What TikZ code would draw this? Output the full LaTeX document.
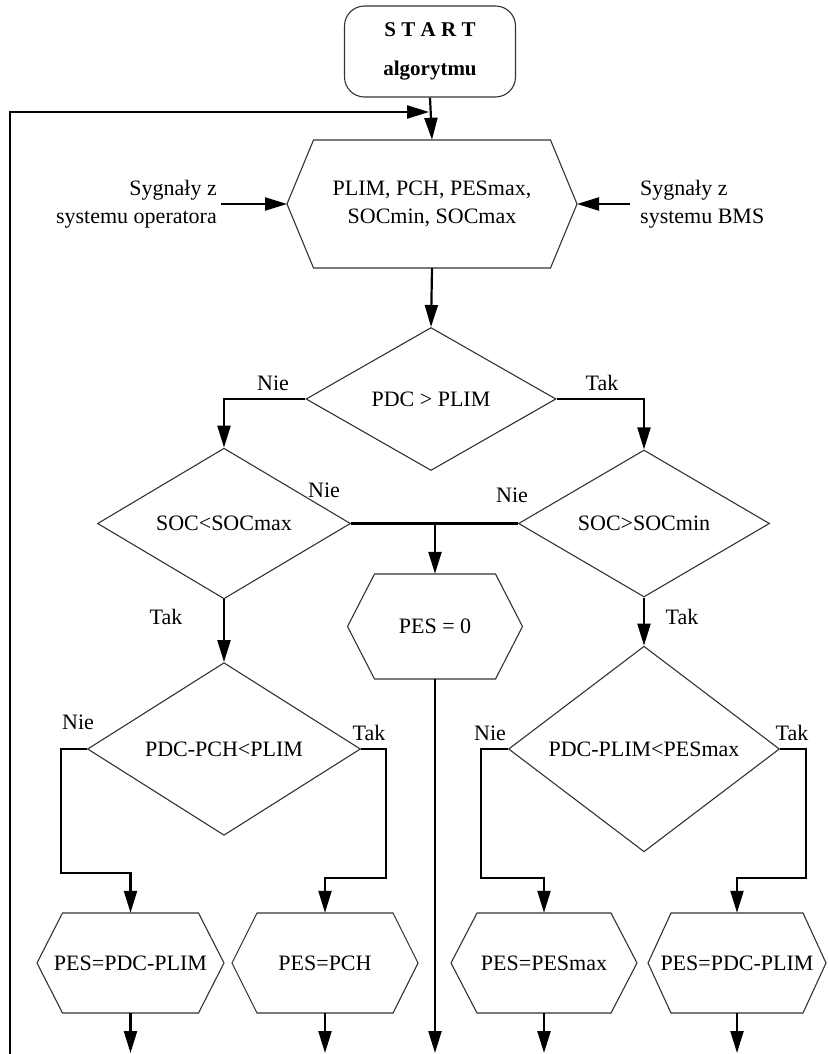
\documentclass[tikz,border=0pt]{standalone}
\usepackage{fontspec}
\setmainfont{Liberation Serif}
\usetikzlibrary{shapes.geometric,arrows.meta,calc}
% name, cx, cy, half top width, half middle width, half height, text
\newcommand\hexn[7]{%
  \node[txt,minimum width={2*#4},minimum height={2*#6}] (#1) at (#2,#3) {#7};
  \coordinate (#1-w) at ({#2-#5},#3);
  \coordinate (#1-e) at ({#2+#5},#3);
  \draw[outl] ({#2-#4},{#3-#6}) -- ({#2+#4},{#3-#6}) -- (#1-e) -- ({#2+#4},{#3+#6}) -- ({#2-#4},{#3+#6}) -- (#1-w) -- cycle;
}
\begin{document}
\begin{tikzpicture}[x=1pt,y=-1pt,
  font=\fontsize{22}{28}\selectfont,
  outl/.style={draw=black!80,line width=1.1pt},
  conn/.style={draw=black,line width=2.2pt},
  arr/.style={conn,-{Triangle[length=22pt,width=13pt]}},
  txt/.style={inner sep=0pt,align=center},
  dia/.style={diamond,outl,inner sep=0pt,align=center},
  lbl/.style={inner sep=0pt}]
\useasboundingbox (0,0) rectangle (827,1054);

% start
\node[outl,rounded corners=20pt,minimum width=171pt,minimum height=91pt,align=center,
  font=\bfseries\fontsize{21}{39}\selectfont] (start) at (430,51.5) {S T A R T\\algorytmu};

% input hexagon
\hexn{in}{432}{204}{118.5}{145}{64}{PLIM, PCH, PESmax,\\SOCmin, SOCmax}
\node[txt,anchor=east,align=right] (op) at (217,204) {Sygnały z\\systemu operatora};
\node[txt,anchor=west,align=left] (bms) at (640,204) {Sygnały z\\systemu BMS};

% decisions
\node[dia,minimum width=250pt,minimum height=143pt] (d1) at (431,399) {PDC > PLIM};
\node[dia,minimum width=253pt,minimum height=141pt] (d2l) at (224,523.5) {SOC<SOCmax};
\node[dia,minimum width=251pt,minimum height=141pt] (d2r) at (644,523.5) {SOC>SOCmin};
\node[dia,minimum width=273pt,minimum height=158pt] (d3l) at (224,749) {PDC-PCH<PLIM};
\node[dia,minimum width=271pt,minimum height=158pt] (d3r) at (644,749) {PDC-PLIM<PESmax};

% results
\hexn{pes0}{435}{626.5}{60.5}{87.5}{52.5}{PES = 0}
\hexn{h1}{130.5}{963}{68}{93.5}{50}{PES=PDC-PLIM}
\hexn{h2}{325}{963}{68}{93}{50}{PES=PCH}
\hexn{h3}{544}{963}{67}{93}{50}{PES=PESmax}
\hexn{h4}{737}{963}{66}{89}{50}{PES=PDC-PLIM}

% labels
\node[lbl] (l1) at (273,383) {Nie};
\node[lbl] (l2) at (602,383) {Tak};
\node[lbl] (l3) at (324,490) {Nie};
\node[lbl] (l4) at (512,495) {Nie};
\node[lbl] (l5) at (166,617) {Tak};
\node[lbl] (l6) at (682,617) {Tak};
\node[lbl] (l7) at (78,722) {Nie};
\node[lbl] (l8) at (369,733) {Tak};
\node[lbl] (l9) at (490,733) {Nie};
\node[lbl] (l10) at (792,733) {Tak};

% helper coordinates
\coordinate (loopbot) at (10,1054);
\coordinate (loopend) at (429,112);
\coordinate (j) at (435,523.5);
\coordinate (a1) at (61,873);
\coordinate (b1) at (386,878);
\coordinate (c1) at (481,878);
\coordinate (f1) at (806,878);
\coordinate (e1) at (130.5,1053);
\coordinate (e2) at (325,1053);
\coordinate (e3) at (435,1053);
\coordinate (e4) at (544,1053);
\coordinate (e5) at (737,1053);

% connectors
\draw[arr] (start.south) -- (in.north);
\draw[arr] (loopbot) |- (loopend);
\draw[arr,shorten <=4pt] (op.east) -- (in-w);
\draw[arr,shorten <=10pt] (bms.west) -- (in-e);
\draw[arr] (in.south) -- (d1.north);
\draw[arr] (d1.west) -| (d2l.north);
\draw[arr] (d1.east) -| (d2r.north);
\draw[conn] (d2l.east) -- (d2r.west);
\draw[arr] (j) -- (pes0.north);
\draw[arr] (d2l.south) -- (d3l.north);
\draw[arr] (d2r.south) -- (d3r.north);
\draw[arr] (d3l.west) -| (a1) -| (h1.north);
\draw[arr] (d3l.east) -| (b1) -| (h2.north);
\draw[arr] (d3r.west) -| (c1) -| (h3.north);
\draw[arr] (d3r.east) -| (f1) -| (h4.north);
\draw[arr] (pes0.south) -- (e3);
\draw[arr] (h1.south) -- (e1);
\draw[arr] (h2.south) -- (e2);
\draw[arr] (h3.south) -- (e4);
\draw[arr] (h4.south) -- (e5);
\end{tikzpicture}
\end{document}
